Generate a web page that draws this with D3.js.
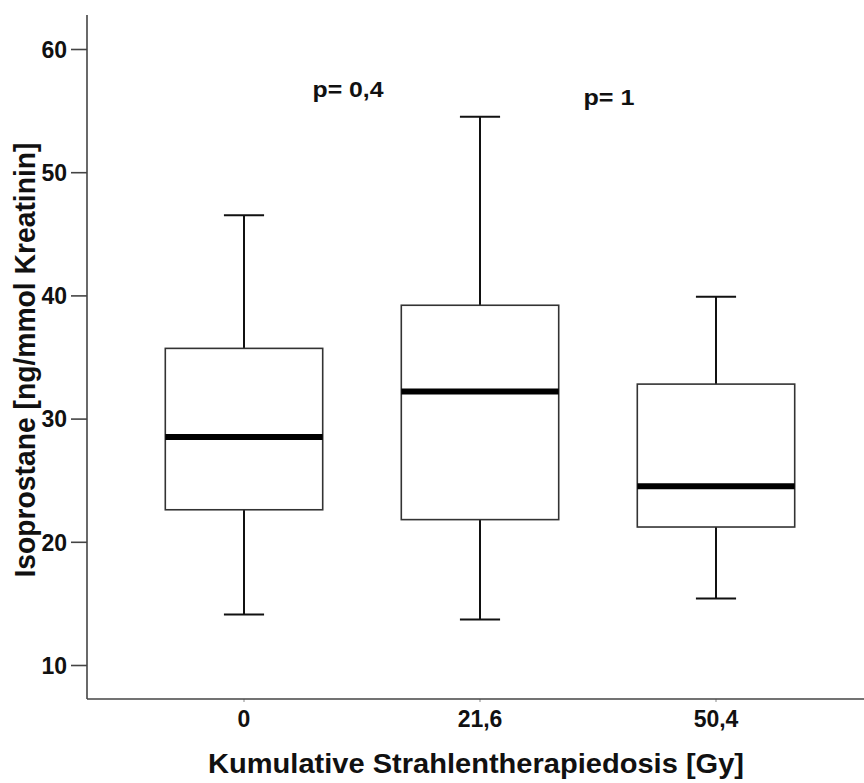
<!DOCTYPE html>
<html>
<head>
<meta charset="utf-8">
<script src="https://cdn.jsdelivr.net/npm/d3@7"></script>
<style>
  html, body { margin: 0; padding: 0; background: #fff; }
  svg { display: block; font-family: "Liberation Sans", Arial, sans-serif; }
</style>
</head>
<body>
<svg id="chart" width="864" height="783"></svg>
<script>
// Boxplot values
const categories = ['0', '21,6', '50,4'];
const whiskerLow = [14.1, 13.7, 15.4];
const q1 = [22.6, 21.8, 21.2];
const median = [28.5, 32.2, 24.5];
const q3 = [35.7, 39.2, 32.8];
const whiskerHigh = [46.5, 54.5, 39.9];
const yTicks = [10, 20, 30, 40, 50, 60];
const pLabels = ['p= 0,4', 'p= 1'];

const svg = d3.select('#chart');

const axisLeft = 87, axisBottom = 699, axisTop = 15, axisRight = 864;

const y = d3.scaleLinear().domain([10, 60]).range([665, 49]);
const x = d3.scaleBand().domain(categories).range([126, 834]).paddingInner(0).paddingOuter(0);

const boxW = x.bandwidth() * 0.667;
const capW = boxW * 0.255;

const boxes = categories.map((c, i) => ({
	cat: c, lo: whiskerLow[i], q1: q1[i], med: median[i], q3: q3[i], hi: whiskerHigh[i]
}));

const g = svg.append('g');

// whiskers
boxes.forEach(d => {
	const cx = x(d.cat) + x.bandwidth() / 2;
	g.append('line').attr('x1', cx).attr('x2', cx).attr('y1', y(d.hi)).attr('y2', y(d.q3))
		.attr('stroke', '#111').attr('stroke-width', 2);
	g.append('line').attr('x1', cx).attr('x2', cx).attr('y1', y(d.q1)).attr('y2', y(d.lo))
		.attr('stroke', '#111').attr('stroke-width', 2);
	g.append('line').attr('x1', cx - capW / 2).attr('x2', cx + capW / 2).attr('y1', y(d.hi)).attr('y2', y(d.hi))
		.attr('stroke', '#111').attr('stroke-width', 2);
	g.append('line').attr('x1', cx - capW / 2).attr('x2', cx + capW / 2).attr('y1', y(d.lo)).attr('y2', y(d.lo))
		.attr('stroke', '#111').attr('stroke-width', 2);
	// box
	g.append('rect').attr('x', cx - boxW / 2).attr('y', y(d.q3))
		.attr('width', boxW).attr('height', y(d.q1) - y(d.q3))
		.attr('fill', '#fff').attr('stroke', '#333').attr('stroke-width', 1.6);
	// median
	g.append('line').attr('x1', cx - boxW / 2).attr('x2', cx + boxW / 2).attr('y1', y(d.med)).attr('y2', y(d.med))
		.attr('stroke', '#000').attr('stroke-width', 6);
});

// y axis
const yAxis = d3.axisLeft(y).tickValues(yTicks).tickSize(16).tickPadding(4).tickFormat(d3.format('d'));
const yg = svg.append('g').attr('transform', `translate(${axisLeft},0)`).call(yAxis);
yg.select('.domain').remove();
yg.selectAll('.tick line').attr('stroke', '#444').attr('stroke-width', 1.6);
yg.selectAll('.tick text').attr('font-size', 23).attr('font-weight', 'bold').attr('fill', '#111')
	.attr('font-family', '"Liberation Sans", Arial, sans-serif').attr('dy', '0.36em');
svg.append('line').attr('x1', axisLeft).attr('x2', axisLeft).attr('y1', axisTop).attr('y2', axisBottom)
	.attr('stroke', '#444').attr('stroke-width', 1.6);

// x axis
const xAxis = d3.axisBottom(x).tickSize(3).tickPadding(8);
const xg = svg.append('g').attr('transform', `translate(0,${axisBottom})`).call(xAxis);
xg.select('.domain').remove();
xg.selectAll('.tick line').attr('stroke', '#888').attr('stroke-width', 1);
xg.selectAll('.tick text').attr('font-size', 23).attr('font-weight', 'bold').attr('fill', '#111')
	.attr('font-family', '"Liberation Sans", Arial, sans-serif').attr('dy', '0.75em');
svg.append('line').attr('x1', axisLeft).attr('x2', axisRight).attr('y1', axisBottom).attr('y2', axisBottom)
	.attr('stroke', '#444').attr('stroke-width', 1.6);

// axis titles
svg.append('text').attr('x', 476).attr('y', 773).attr('text-anchor', 'middle')
	.attr('font-size', 28).attr('font-weight', 'bold').attr('fill', '#111')
	.attr('textLength', 536).attr('lengthAdjust', 'spacingAndGlyphs')
	.text('Kumulative Strahlentherapiedosis [Gy]');

svg.append('text').attr('transform', 'translate(35,360) rotate(-90)').attr('text-anchor', 'middle')
	.attr('font-size', 29).attr('font-weight', 'bold').attr('fill', '#111')
	.attr('textLength', 435).attr('lengthAdjust', 'spacingAndGlyphs')
	.text('Isoprostane [ng/mmol Kreatinin]');

// p-value annotations
const pPos = [{ x: 348, y: 97, w: 71 }, { x: 609, y: 105, w: 51 }];
pLabels.forEach((t, i) => {
	svg.append('text').attr('x', pPos[i].x).attr('y', pPos[i].y).attr('text-anchor', 'middle')
		.attr('font-size', 22).attr('font-weight', 'bold').attr('fill', '#111')
		.attr('textLength', pPos[i].w).attr('lengthAdjust', 'spacingAndGlyphs')
		.text(t);
});
</script>
</body>
</html>
